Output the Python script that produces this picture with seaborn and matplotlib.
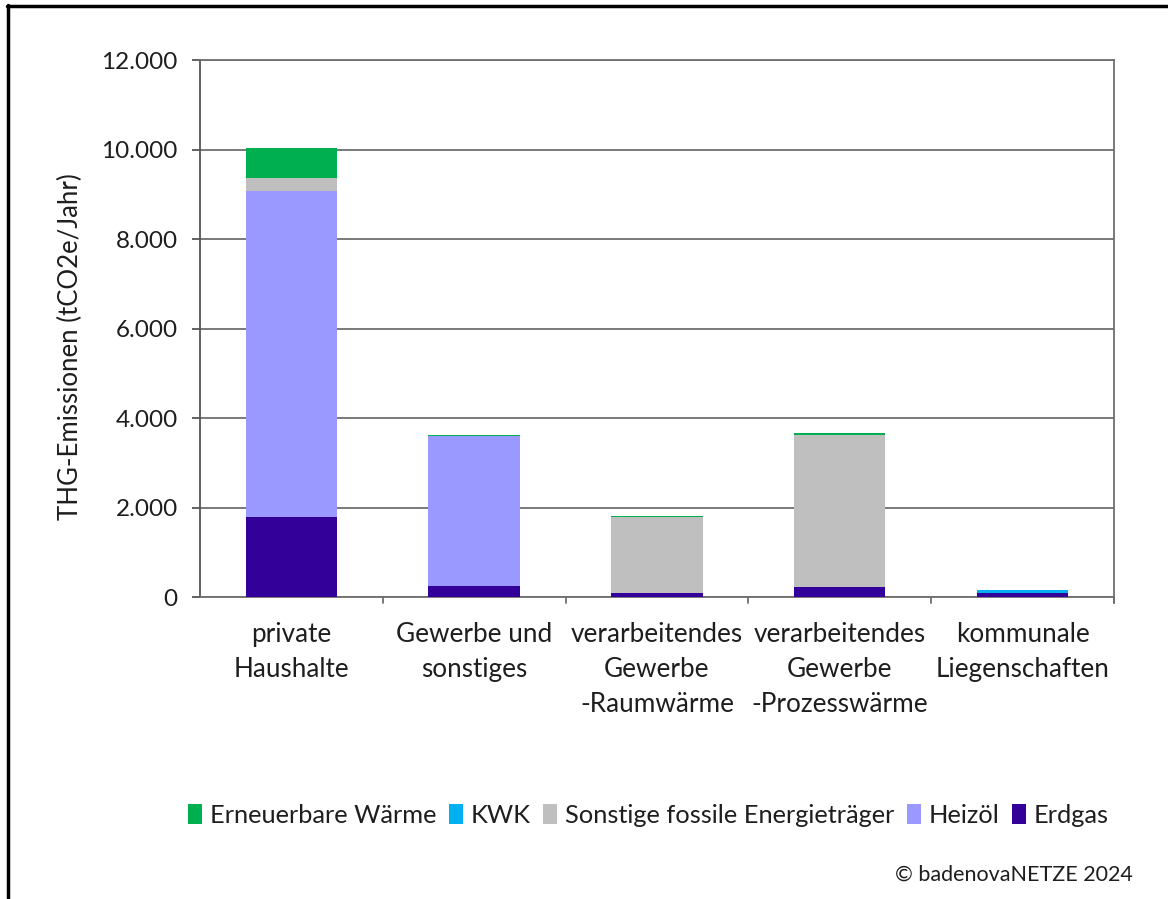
import matplotlib
matplotlib.use("Agg")
import matplotlib.pyplot as plt
from matplotlib.patches import Patch
from matplotlib.lines import Line2D
import seaborn as sns
import pandas as pd
import numpy as np

# Sectors and emissions per energy carrier (t CO2e / Jahr)
sectors = [
    "private\nHaushalte",
    "Gewerbe und\nsonstiges",
    "verarbeitendes\nGewerbe\n-Raumwärme",
    "verarbeitendes\nGewerbe\n-Prozesswärme",
    "kommunale\nLiegenschaften",
]
erdgas = [1780, 250, 100, 230, 100]
heizoel = [7290, 3340, 0, 0, 0]
sonstige = [290, 0, 1680, 3400, 0]
kwk = [0, 0, 0, 0, 55]
erneuerbar = [670, 30, 30, 30, 0]

series_names = ["Erdgas", "Heizöl", "Sonstige fossile Energieträger", "KWK", "Erneuerbare Wärme"]
series_vals = [erdgas, heizoel, sonstige, kwk, erneuerbar]
colors = {
    "Erdgas": "#330099",
    "Heizöl": "#9999FF",
    "Sonstige fossile Energieträger": "#BFBFBF",
    "KWK": "#00B0F0",
    "Erneuerbare Wärme": "#00B050",
}
legend_order = ["Erneuerbare Wärme", "KWK", "Sonstige fossile Energieträger", "Heizöl", "Erdgas"]
yticks = [0, 2000, 4000, 6000, 8000, 10000, 12000]

sns.set_theme(style="white")
plt.rcParams["font.family"] = ["Lato", "DejaVu Sans"]
FS = 17.5
TXT = "#1e1e1e"

fig = plt.figure(figsize=(11.68, 8.99), dpi=100)
ax = fig.add_axes([0.1712, 0.3359, 0.7825, 0.5973])

# Stacked bars: draw cumulative totals from the top layer down
df = pd.DataFrame({name: vals for name, vals in zip(series_names, series_vals)})
df["Sektor"] = sectors
cum = df[series_names].cumsum(axis=1)
for name in reversed(series_names):
    sns.barplot(x=sectors, y=cum[name].values, color=colors[name], width=0.5,
                saturation=1, ax=ax, zorder=3, linewidth=0)

ax.set_ylim(0, 12000)
ax.set_xlim(-0.5, len(sectors) - 0.5)
ax.set_yticks(yticks)
ax.set_yticklabels([f"{v:,}".replace(",", ".") for v in yticks], fontsize=FS, color=TXT)
ax.yaxis.grid(True, color="#6e6e6e", linewidth=1.3, zorder=0)
ax.xaxis.grid(False)
ax.set_axisbelow(True)

# Category labels centered under bars, tick marks at category boundaries
ax.set_xticks(np.arange(len(sectors)))
ax.set_xticklabels(sectors, fontsize=18.8, color=TXT, linespacing=1.49)
ax.tick_params(axis="x", length=0, pad=18)
for b in np.arange(0.5, len(sectors) - 0.5 + 1e-9, 1.0):
    ax.add_line(Line2D([b, b], [0, -0.011], transform=ax.get_xaxis_transform(),
                       color="#6e6e6e", linewidth=1.3, clip_on=False))
ax.add_line(Line2D([len(sectors) - 0.5] * 2, [0, -0.011], transform=ax.get_xaxis_transform(),
                   color="#6e6e6e", linewidth=1.3, clip_on=False))
ax.tick_params(axis="y", direction="out", length=6, width=1.3, color="#555555", pad=10, left=True)

for side in ["left", "right", "top", "bottom"]:
    ax.spines[side].set_visible(True)
    ax.spines[side].set_linewidth(1.3)
    ax.spines[side].set_color("#6e6e6e")
ax.spines["left"].set_color("#555555")

ax.set_ylabel("THG-Emissionen (tCO2e/Jahr)", fontsize=18.5, color=TXT, labelpad=13, y=0.466)
ax.set_xlabel("")

handles = [Patch(facecolor=colors[n], edgecolor="none", label=n) for n in legend_order]
fig.legend(handles=handles, loc="center", bbox_to_anchor=(0.555, 0.093), ncol=5,
           frameon=False, fontsize=18.3, handlelength=0.55, handleheight=0.8,
           handletextpad=0.3, columnspacing=0.5, labelcolor=TXT)

fig.text(0.970, 0.027, "© badenovaNETZE 2024", ha="right", va="center", fontsize=15.5, color=TXT)

# Outer frame (top and left edges)
fig.add_artist(Line2D([0.006, 1.0], [0.9935, 0.9935], transform=fig.transFigure, color="black", linewidth=2.5))
fig.add_artist(Line2D([0.007, 0.007], [0.0, 0.994], transform=fig.transFigure, color="black", linewidth=2.5))

fig.savefig("out.png", dpi=100, facecolor="white")
